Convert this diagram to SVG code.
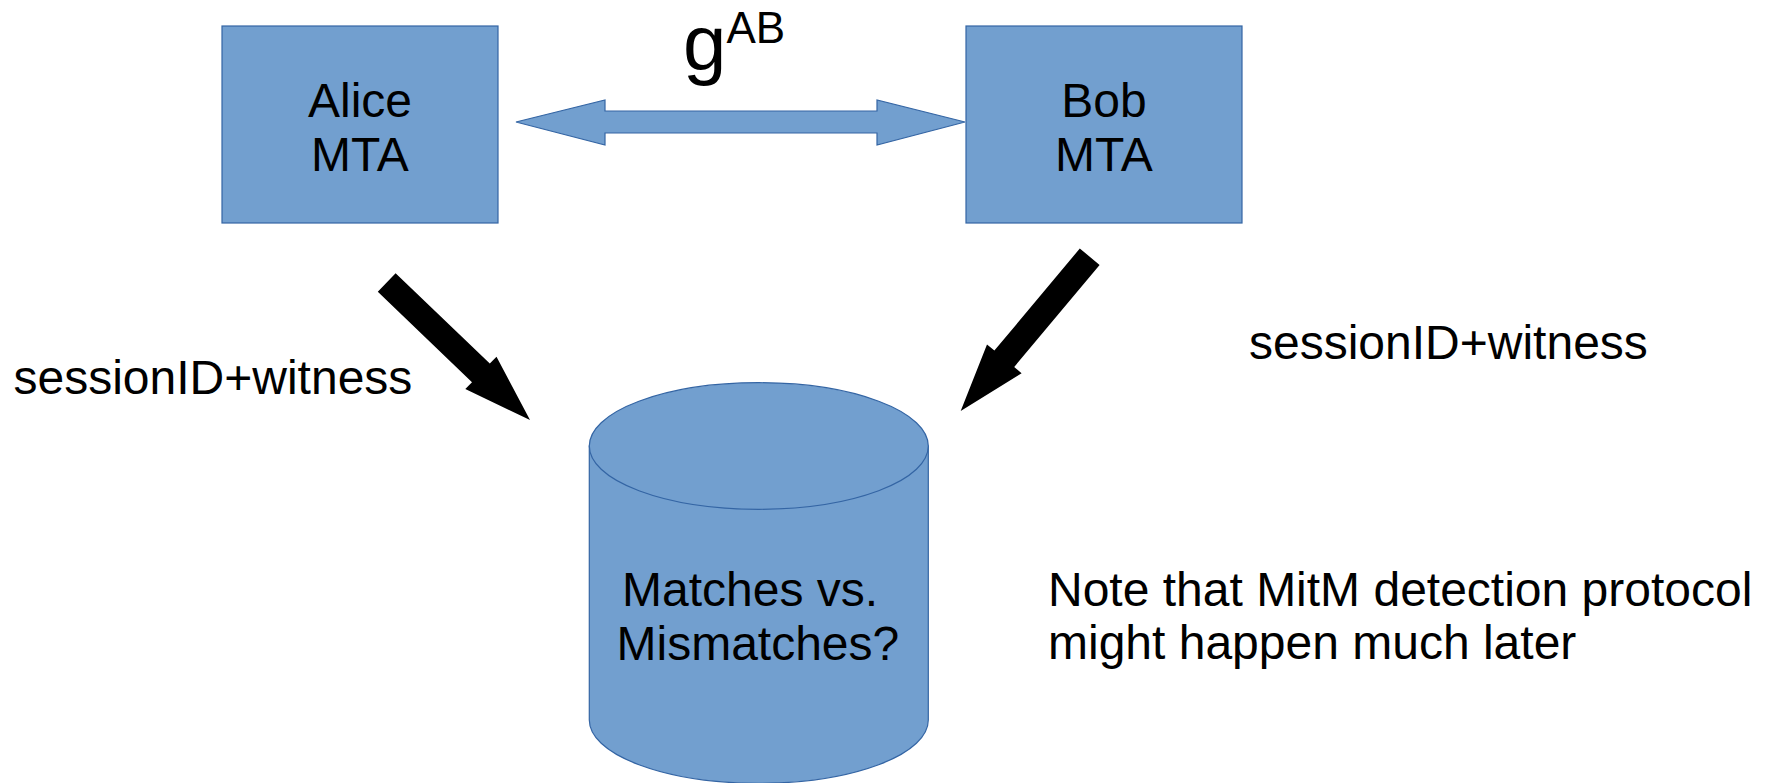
<svg xmlns="http://www.w3.org/2000/svg" width="1774" height="783" viewBox="0 0 1774 783">
  <style>
    .shape { fill: #729fcf; stroke: #3465a4; stroke-width: 1.2; }
    .label { font-family: "Liberation Sans", Arial, sans-serif; font-size: 48px; fill: #000; }
    .mid { text-anchor: middle; }
    .flow { fill: #000; stroke: none; }
  </style>
  <rect width="1774" height="783" fill="#fff"/>

  <!-- Alice mail server -->
  <g id="alice">
    <rect class="shape" x="222" y="26" width="276" height="197"/>
    <text class="label mid" x="360" y="117">Alice</text>
    <text class="label mid" x="360" y="171">MTA</text>
  </g>

  <!-- Bob mail server -->
  <g id="bob">
    <rect class="shape" x="966" y="26" width="276" height="197"/>
    <text class="label mid" x="1104" y="117">Bob</text>
    <text class="label mid" x="1104" y="171">MTA</text>
  </g>

  <!-- Shared store of reports -->
  <g id="store">
    <path class="shape" d="M589.3,446 V720 A169.5,63.3 0 0 0 928.3,720 V446 Z"/>
    <ellipse class="shape" cx="758.8" cy="446" rx="169.5" ry="63.3"/>
    <text class="label" x="622" y="606">Matches vs.</text>
    <text class="label" x="616.5" y="660">Mismatches?</text>
  </g>

  <!-- Connectors -->
  <g id="connectors">
    <polygon class="shape" points="516,122 605,100 605,111 877,111 877,100 965,122 877,145 877,133 605,133 605,145"/>
    <polygon class="flow" points="395.6,273.2 489.8,363.6 496.5,356.7 530,420 465.3,389.1 472,382.2 377.8,291.8"/>
    <polygon class="flow" points="1079.8,248.5 1099.6,264.9 1014.2,367 1021.6,373.2 960.7,411 987,344.4 994.4,350.6"/>
  </g>

  <!-- Labels -->
  <g id="key-label">
    <text class="label" x="683" y="70" style="font-size:78px">g<tspan style="font-size:44px" dy="-27">AB</tspan></text>
  </g>
  <g id="left-label">
    <text class="label" x="13.5" y="394">sessionID+witness</text>
  </g>
  <g id="right-label">
    <text class="label" x="1249" y="359">sessionID+witness</text>
  </g>
  <g id="note">
    <text class="label" x="1048" y="606">Note that MitM detection protocol</text>
    <text class="label" x="1048" y="659">might happen much later</text>
  </g>
</svg>
